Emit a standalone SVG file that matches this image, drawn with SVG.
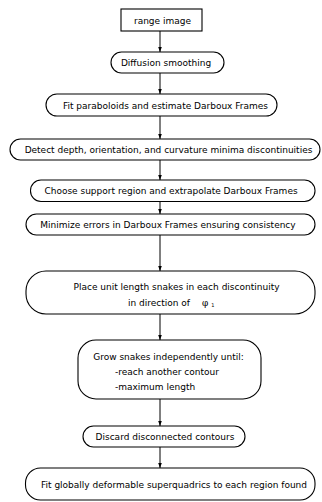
<svg xmlns="http://www.w3.org/2000/svg" width="322" height="502" viewBox="0 0 322 502">
<style>
.b{fill:#fff;stroke:#000;stroke-width:1.1}
.t{font-family:"DejaVu Sans",Verdana,sans-serif;font-size:9px;fill:#000;text-anchor:middle}
.l{text-anchor:start}
.c{stroke:#000;stroke-width:1;fill:none}
</style>
<defs>
<marker id="ah" markerWidth="5" markerHeight="7" refX="7" refY="2.5" orient="auto" markerUnits="userSpaceOnUse" viewBox="0 0 7 5">
<path d="M0,0 L7,2.5 L0,5 z" fill="#000"/>
</marker>
</defs>
<rect width="322" height="502" fill="#fff"/>
<g id="connectors">
<line class="c" x1="160" y1="31" x2="160" y2="52" marker-end="url(#ah)"/>
<line class="c" x1="160" y1="73" x2="160" y2="94" marker-end="url(#ah)"/>
<line class="c" x1="160" y1="116" x2="160" y2="139" marker-end="url(#ah)"/>
<line class="c" x1="160" y1="160" x2="160" y2="180" marker-end="url(#ah)"/>
<line class="c" x1="160" y1="201.5" x2="160" y2="214" marker-end="url(#ah)"/>
<line class="c" x1="160" y1="235" x2="160" y2="271" marker-end="url(#ah)"/>
<line class="c" x1="160" y1="314" x2="160" y2="340" marker-end="url(#ah)"/>
<line class="c" x1="160" y1="399" x2="160" y2="426" marker-end="url(#ah)"/>
<line class="c" x1="160" y1="447" x2="160" y2="468" marker-end="url(#ah)"/>
</g>
<g id="n1"><rect class="b" x="121" y="9" width="81" height="22"/><text class="t" x="162.5" y="23.5">range image</text></g>
<g id="n2"><rect class="b" x="111" y="52" width="113" height="21" rx="10.5"/><text class="t" x="166" y="66">Diffusion smoothing</text></g>
<g id="n3"><rect class="b" x="46" y="94" width="231" height="22" rx="11"/><text class="t" x="165.5" y="108.5">Fit paraboloids and estimate Darboux Frames</text></g>
<g id="n4"><rect class="b" x="10" y="139" width="310" height="21" rx="10.5"/><text class="t" x="168.5" y="153">Detect depth, orientation, and curvature minima discontinuities</text></g>
<g id="n5"><rect class="b" x="30.5" y="180" width="284.5" height="21.5" rx="10.5"/><text class="t" x="171" y="194">Choose support region and extrapolate Darboux Frames</text></g>
<g id="n6"><rect class="b" x="26" y="214" width="289" height="21" rx="10.5"/><text class="t" x="168" y="228">Minimize errors in Darboux Frames ensuring consistency</text></g>
<g id="n7"><rect class="b" x="26" y="271" width="289" height="43" rx="20"/><text class="t" x="176.5" y="289.5">Place unit length snakes in each discontinuity</text><text class="t l" x="128" y="305.5">in direction of <tspan dx="9" font-family="'DejaVu Serif',serif">φ</tspan><tspan font-size="5" dx="1.5" dy="1"> 1</tspan></text></g>
<g id="n8"><rect class="b" x="78" y="340" width="183" height="59" rx="18"/><text class="t" x="168.5" y="359.5">Grow snakes independently until:</text><text class="t l" x="115" y="374.5">-reach another contour</text><text class="t l" x="115" y="389.5">-maximum length</text></g>
<g id="n9"><rect class="b" x="83" y="426" width="162" height="21" rx="10.5"/><text class="t" x="165" y="440">Discard disconnected contours</text></g>
<g id="n10"><rect class="b" x="25.5" y="468" width="289.5" height="32" rx="15"/><text class="t" x="174" y="487.5">Fit globally deformable superquadrics to each region found</text></g>
</svg>
